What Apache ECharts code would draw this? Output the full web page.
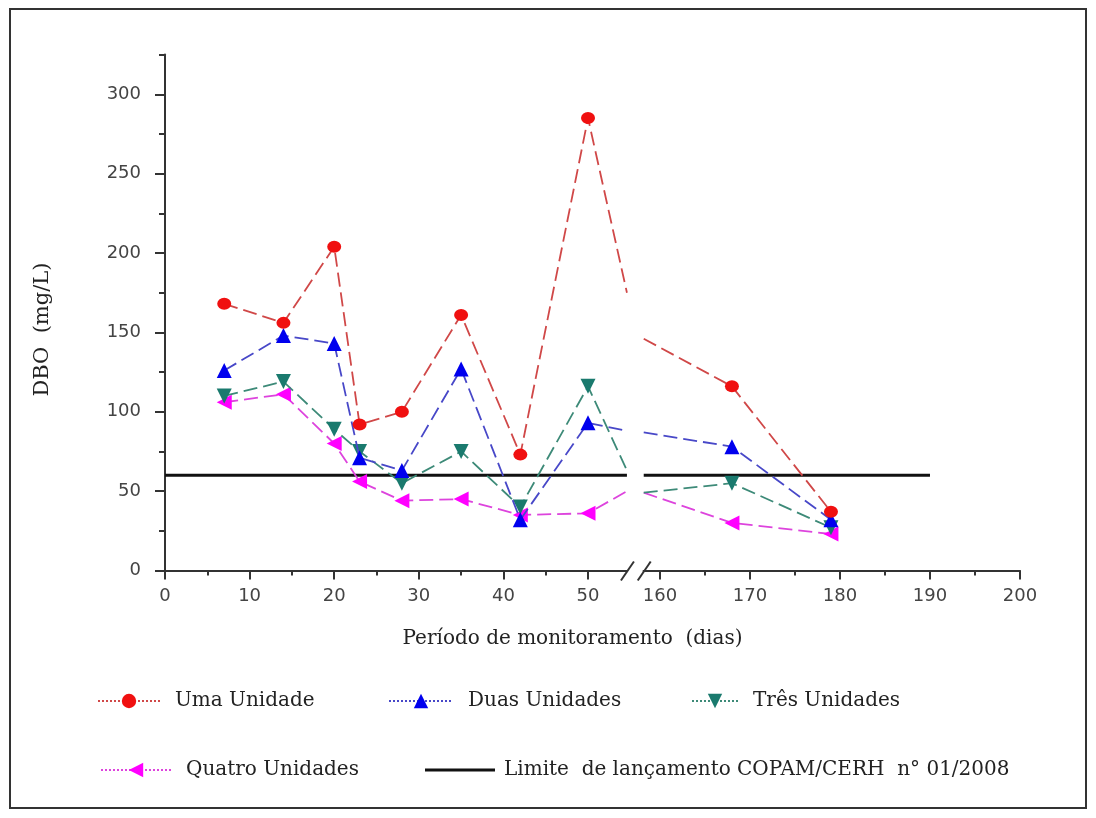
<!DOCTYPE html>
<html>
<head>
<meta charset="utf-8">
<script src="https://cdn.jsdelivr.net/npm/echarts@6/dist/echarts.min.js"></script>
<style>
html,body{margin:0;padding:0;background:#fff;}
#c{width:1096px;height:818px;}
</style>
</head>
<body>
<div id="c"></div>
<script>
// ---- data (days, DBO mg/L) ----
const days = [7, 14, 20, 23, 28, 35, 42, 50, 168, 179];
const umaUnidade = [168, 156, 204, 92, 100, 161, 73, 285, 116, 37];
const duasUnidades = [126, 148, 143, 71, 63, 127, 32, 93, 78, 32];
const tresUnidades = [110, 119, 89, 75, 55, 75, 40, 116, 55, 27];
const quatroUnidades = [106, 111, 80, 56, 44, 45, 35, 36, 30, 23];
// values where each line meets the axis break (left edge, right edge)
const breakDays = [54.6, 158.2];
const umaBreak = [175, 146];
const duasBreak = [88, 87];
const tresBreak = [63, 49];
const quatroBreak = [50, 49];
// limit line
const limiteValue = 60;
const limiteDays = [0, 190];
// ticks
const xMajor = [0, 10, 20, 30, 40, 50, 160, 170, 180, 190, 200];
const xMinor = [5, 15, 25, 35, 45, 165, 175, 185, 195];
const yMajor = [0, 50, 100, 150, 200, 250, 300];
const yMinor = [25, 75, 125, 175, 225, 275, 325];

// ---- broken x axis transform ----
const SPLIT_DAY = 160, SPLIT_POS = 58.5, K = 1.064;
function tx(d) { return d <= 100 ? d : SPLIT_POS + (d - SPLIT_DAY) * K; }
function inv(v) { return v <= 56 ? Math.round(v) : Math.round(SPLIT_DAY + (v - SPLIT_POS) / K); }
const X_MAX = tx(200);

function buildSeries(vals, brk) {
  const out = [];
  days.forEach((d, i) => { if (d <= 100) out.push([tx(d), vals[i]]); });
  out.push({ value: [tx(breakDays[0]), brk[0]], symbol: 'none' });
  out.push(['-', '-']);
  out.push({ value: [tx(breakDays[1]), brk[1]], symbol: 'none' });
  days.forEach((d, i) => { if (d > 100) out.push([tx(d), vals[i]]); });
  return out;
}

const chart = echarts.init(document.getElementById('c'), null, { renderer: 'canvas' });
const serif = 'DejaVu Serif';
const LIMIT_NAME = 'Limite  de lançamento COPAM/CERH  n° 01/2008';
const legendBase = {
  itemHeight: 18, selectedMode: false,
  textStyle: { fontFamily: serif, fontSize: 20, color: '#222', padding: [0, 0, 0, 10] }
};
const option = {
  backgroundColor: '#fff',
  animation: false,
  grid: { left: 165, right: 76, top: 54.6, bottom: 247.5, containLabel: false },
  xAxis: [
    {
      type: 'value', min: 0, max: X_MAX, position: 'bottom',
      name: 'Período de monitoramento  (dias)', nameLocation: 'middle', nameGap: 58,
      nameTextStyle: { fontFamily: serif, fontSize: 20, color: '#222', padding: [0, 40, 0, 0] },
      axisLine: { show: true, lineStyle: { color: '#333', width: 2 } },
      axisTick: { show: true, length: 9, lineStyle: { color: '#333', width: 2 }, customValues: xMajor.map(tx) },
      axisLabel: { customValues: xMajor.map(tx), formatter: v => String(inv(v)), margin: 17,
        fontFamily: 'DejaVu Sans', fontSize: 18, color: '#444' },
      splitLine: { show: false }
    },
    {
      type: 'value', min: 0, max: X_MAX, position: 'bottom',
      axisLine: { show: false },
      axisTick: { show: true, length: 5, lineStyle: { color: '#333', width: 2 }, customValues: xMinor.map(tx) },
      axisLabel: { show: false },
      splitLine: { show: false }
    }
  ],
  yAxis: [
    {
      type: 'value', min: 0, max: 325, position: 'left',
      name: 'DBO  (mg/L)', nameLocation: 'middle', nameGap: 112, nameRotate: 90,
      nameTextStyle: { fontFamily: serif, fontSize: 21, color: '#222', padding: [0, 34, 0, 0] },
      axisLine: { show: true, lineStyle: { color: '#333', width: 2 } },
      axisTick: { show: true, length: 10, lineStyle: { color: '#333', width: 2 }, customValues: yMajor },
      axisLabel: { customValues: yMajor, margin: 24, fontFamily: 'DejaVu Sans', fontSize: 18, color: '#444' },
      splitLine: { show: false }
    },
    {
      type: 'value', min: 0, max: 325, position: 'left',
      axisLine: { show: false },
      axisTick: { show: true, length: 6, lineStyle: { color: '#333', width: 2 }, customValues: yMinor },
      axisLabel: { show: false },
      splitLine: { show: false }
    }
  ],
  legend: [
    Object.assign({}, legendBase, { data: ['Uma Unidade'], left: 92, top: 686, itemWidth: 62, lineStyle: { type: 'dotted', width: 2 } }),
    Object.assign({}, legendBase, { data: ['Duas Unidades'], left: 383, top: 686, itemWidth: 64, lineStyle: { type: 'dotted', width: 2 } }),
    Object.assign({}, legendBase, { data: ['Três Unidades'], left: 686, top: 686, itemWidth: 46, lineStyle: { type: 'dotted', width: 2 } }),
    Object.assign({}, legendBase, { data: ['Quatro Unidades'], left: 95, top: 755, itemWidth: 70, lineStyle: { type: 'dotted', width: 2 } }),
    Object.assign({}, legendBase, { data: [{ name: LIMIT_NAME, icon: 'rect' }], left: 420, top: 755, itemWidth: 70, itemHeight: 3,
      textStyle: { fontFamily: serif, fontSize: 20, color: '#222', padding: [0, 0, 0, 4] } })
  ],
  series: [
    {
      name: 'Uma Unidade', type: 'line', data: buildSeries(umaUnidade, umaBreak),
      symbol: 'circle', symbolSize: [14, 12], itemStyle: { color: '#f01010' },
      lineStyle: { color: '#d04848', width: 1.8, type: [14, 6] }, connectNulls: false, z: 5
    },
    {
      name: 'Duas Unidades', type: 'line', data: buildSeries(duasUnidades, duasBreak),
      symbol: 'triangle', symbolSize: 15, itemStyle: { color: '#0000ee' },
      lineStyle: { color: '#4848c8', width: 1.8, type: [14, 6] }, connectNulls: false, z: 4
    },
    {
      name: 'Três Unidades', type: 'line', data: buildSeries(tresUnidades, tresBreak),
      symbol: 'triangle', symbolRotate: 180, symbolSize: 15, itemStyle: { color: '#1a7a6e' },
      lineStyle: { color: '#3d8a78', width: 1.8, type: [14, 6] }, connectNulls: false, z: 3
    },
    {
      name: 'Quatro Unidades', type: 'line', data: buildSeries(quatroUnidades, quatroBreak),
      symbol: 'triangle', symbolRotate: 90, symbolSize: 15, itemStyle: { color: '#ff00ff' },
      lineStyle: { color: '#dd44dd', width: 1.8, type: [14, 6] }, connectNulls: false, z: 2
    },
    {
      name: LIMIT_NAME, type: 'line',
      data: [[tx(limiteDays[0]), limiteValue], [tx(breakDays[0]), limiteValue], ['-', '-'],
             [tx(breakDays[1]), limiteValue], [tx(limiteDays[1]), limiteValue]],
      symbol: 'none', itemStyle: { color: '#111' },
      lineStyle: { color: '#111', width: 3, type: 'solid' }, connectNulls: false, z: 1
    }
  ]
};
chart.setOption(option);

// break marks on the x axis and outer frame
const pL = chart.convertToPixel({ xAxisIndex: 0, yAxisIndex: 0 }, [tx(breakDays[0]), 0]);
const pR = chart.convertToPixel({ xAxisIndex: 0, yAxisIndex: 0 }, [tx(breakDays[1]), 0]);
const yA = pL[1];
const slash = (cx) => ({ type: 'line', z: 100, shape: { x1: cx - 6, y1: yA + 10, x2: cx + 7, y2: yA - 9 },
  style: { stroke: '#333', lineWidth: 2 } });
chart.setOption({
  graphic: [
    { type: 'rect', z: 99, shape: { x: pL[0] + 1, y: yA - 4, width: pR[0] - pL[0] - 2, height: 8 }, style: { fill: '#fff' } },
    slash(pL[0]), slash(pR[0]),
    { type: 'rect', z: 100, shape: { x: 10, y: 9, width: 1076, height: 799 }, style: { fill: null, stroke: '#333', lineWidth: 2 } }
  ]
});
</script>
</body>
</html>
